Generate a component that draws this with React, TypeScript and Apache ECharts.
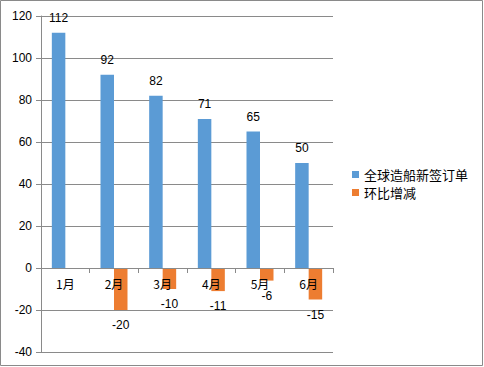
import React, { useEffect, useRef } from "react";
import * as echarts from "echarts";

const categories = ["1月", "2月", "3月", "4月", "5月", "6月"];
const newOrders = [112, 92, 82, 71, 65, 50];
const changes = [null, -20, -10, -11, -6, -15];
const seriesNames = ["全球造船新签订单", "环比增减"];

export default function App() {
  const ref = useRef<HTMLDivElement>(null);
  useEffect(() => {
    document.body.style.margin = "0";
    const chart = echarts.init(ref.current!, null, { renderer: "svg" });
    const gray = "#8a8a8a";
    const font = "Liberation Sans";
    chart.setOption({
      animation: false,
      backgroundColor: "#ffffff",
      graphic: [
        {
          type: "rect",
          shape: { x: 0.5, y: 0.5, width: 482, height: 365 },
          style: { fill: "none", stroke: gray, lineWidth: 1 },
          silent: true,
        },
      ],
      grid: { left: 41, top: 16, right: 151, bottom: 15, containLabel: false, outerBoundsMode: "none" },
      legend: {
        orient: "vertical",
        left: 347,
        top: 163,
        itemWidth: 7,
        itemHeight: 7,
        itemGap: 5,
        icon: "rect",
        textStyle: { fontSize: 13, color: "#000", fontFamily: "Noto Sans CJK SC" },
        data: seriesNames,
      },
      xAxis: {
        type: "category",
        data: categories,
        z: 5,
        axisLine: { onZero: true, lineStyle: { color: gray } },
        axisTick: { show: true, length: 5, lineStyle: { color: gray } },
        axisLabel: { color: "#000", fontSize: 12, margin: -75, fontFamily: "Noto Sans CJK SC" },
      },
      yAxis: {
        type: "value",
        min: -40,
        max: 120,
        interval: 20,
        axisLine: { show: true, lineStyle: { color: gray } },
        axisTick: { show: true, length: 5, lineStyle: { color: gray } },
        axisLabel: { color: "#000", fontSize: 12, margin: 9, fontFamily: font },
        splitLine: { show: true, lineStyle: { color: gray } },
      },
      series: [
        {
          name: seriesNames[0],
          type: "bar",
          data: newOrders,
          barWidth: 13.5,
          barGap: "0%",
          itemStyle: { color: "#5B9BD5" },
          label: {
            show: true,
            position: "top",
            distance: 9,
            color: "#000",
            fontSize: 12,
            fontFamily: font,
          },
        },
        {
          name: seriesNames[1],
          type: "bar",
          data: changes,
          barWidth: 13.5,
          barGap: "0%",
          itemStyle: { color: "#ED7D31" },
          label: {
            show: true,
            position: "bottom",
            distance: 9,
            color: "#000",
            fontSize: 12,
            fontFamily: font,
          },
        },
      ],
    });
    return () => chart.dispose();
  }, []);
  return <div ref={ref} style={{ width: 484, height: 367 }} />;
}
